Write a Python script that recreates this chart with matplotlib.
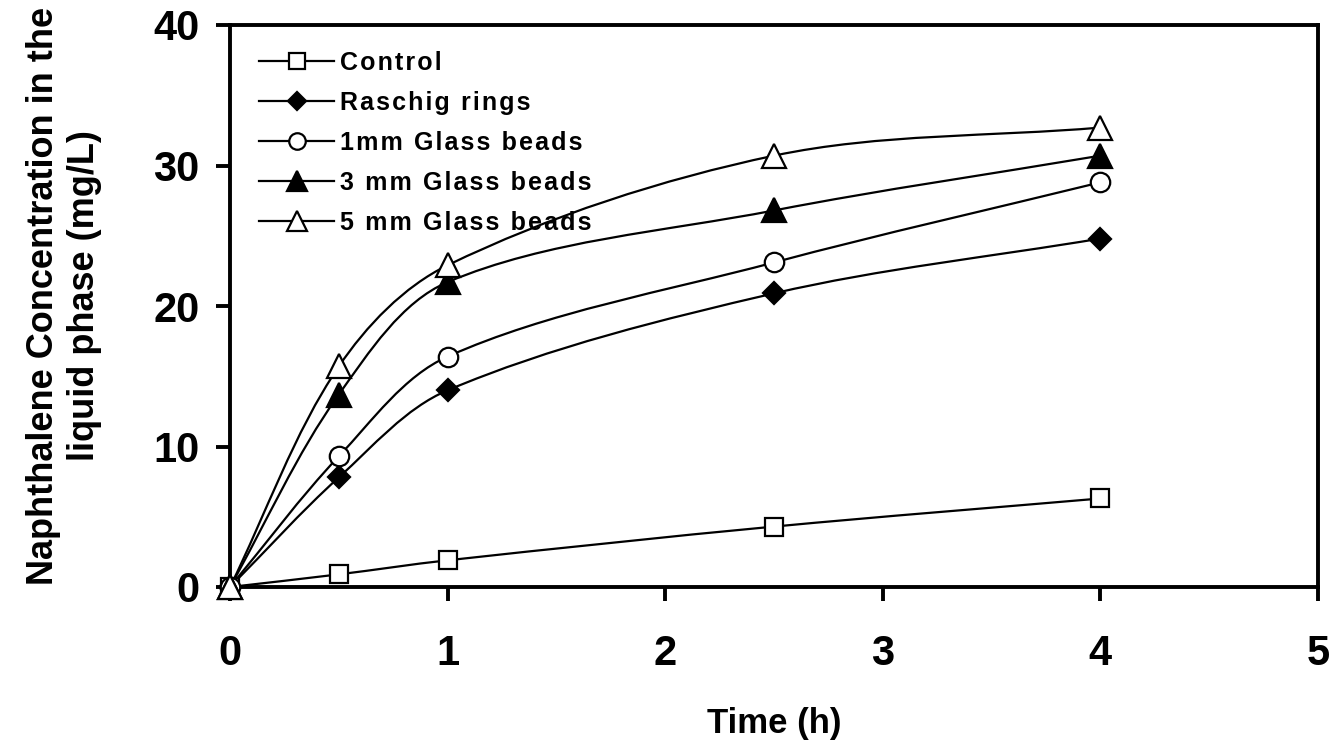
import matplotlib
matplotlib.use("Agg")
import matplotlib.pyplot as plt
import numpy as np
from matplotlib.path import Path
from matplotlib.patches import PathPatch
from matplotlib.lines import Line2D

plt.rcParams["font.family"] = ["Liberation Sans", "DejaVu Sans"]
plt.rcParams["font.weight"] = "bold"

# data
time_h = [0, 0.5, 1, 2.5, 4]
control = [0, 0.9, 1.9, 4.3, 6.3]
raschig = [0, 7.8, 14.0, 20.9, 24.8]
glass_1mm = [0, 9.3, 16.4, 23.1, 28.8]
glass_3mm = [0, 13.7, 21.7, 26.8, 30.7]
glass_5mm = [0, 15.7, 22.9, 30.7, 32.7]

labels = ["Control", "Raschig rings", "1mm Glass beads",
          "3 mm Glass beads", "5 mm Glass beads"]
series = [control, raschig, glass_1mm, glass_3mm, glass_5mm]
styles = [
    dict(marker="s", mfc="white", ms=13),
    dict(marker="D", mfc="black", ms=11),
    dict(marker="o", mfc="white", ms=14),
    dict(marker="^", mfc="black", ms=17),
    dict(marker="^", mfc="white", ms=17),
]


def smooth_path(ax, xs, ys):
    """Excel-like smoothed line, built as cubic Beziers in screen space
    with chord-length scaled tangents, then mapped back to data space."""
    pts = ax.transData.transform(np.column_stack([xs, ys]))
    n = len(pts)
    d = [np.hypot(*(pts[i + 1] - pts[i])) for i in range(n - 1)]
    verts = [pts[0]]
    codes = [Path.MOVETO]
    for i in range(n - 1):
        p0 = pts[i - 1] if i > 0 else pts[i]
        p1, p2 = pts[i], pts[i + 1]
        p3 = pts[i + 2] if i + 2 < n else pts[i + 1]
        d_prev = d[i - 1] if i > 0 else 0.0
        d_next = d[i + 1] if i + 2 < n else 0.0
        c1 = p1 + (p2 - p0) * d[i] / (d_prev + d[i]) / 3
        c2 = p2 - (p3 - p1) * d[i] / (d[i] + d_next) / 3
        verts += [c1, c2, p2]
        codes += [Path.CURVE4] * 3
    verts = ax.transData.inverted().transform(np.array(verts))
    return Path(verts, codes)


def spaced(text):
    return "\u200a".join(text)


fig = plt.figure(figsize=(13.34, 7.44), dpi=100)
ax = fig.add_axes([230 / 1334, 1 - 587 / 744, 1088 / 1334, 562 / 744])
ax.set_xlim(0, 5)
ax.set_ylim(0, 40)

for ys, st in zip(series, styles):
    ax.add_patch(PathPatch(smooth_path(ax, time_h, ys), fill=False,
                           edgecolor="black", lw=1.6, zorder=2))
    ax.plot(time_h, ys, linestyle="none", color="black",
            mec="black", mew=1.6, zorder=3, clip_on=False, **st)

ax.set_xticks([0, 1, 2, 3, 4, 5])
ax.set_yticks([0, 10, 20, 30, 40])
for sp in ax.spines.values():
    sp.set_linewidth(2.8)
ax.tick_params(axis="both", direction="out", length=10, width=2.8,
               labelsize=30)
ax.tick_params(axis="x", pad=24)
ax.tick_params(axis="y", pad=12)

fig.text(774 / 1334, 1 - 724 / 744, "Time (h)", ha="center", va="center",
         fontsize=25, fontweight="bold")
fig.text(64 / 1334, 1 - 296 / 744,
         "Naphthalene Concentration in the\nliquid phase (mg/L)",
         ha="center", va="center", rotation=90, fontsize=26,
         fontweight="bold", multialignment="center", linespacing=1.2)

leg_handles = [Line2D([0], [0], color="black", lw=1.6, mec="black",
                      mew=1.6, **st) for st in styles]
leg = fig.legend(leg_handles, [spaced(l) for l in labels],
                 loc="upper left", bbox_to_anchor=(259 / 1334, 1 - 51 / 744),
                 frameon=False, fontsize=18, handlelength=3.0,
                 handletextpad=0.25, labelspacing=0.64, borderpad=0,
                 borderaxespad=0, markerscale=0.85, numpoints=1)
for t in leg.get_texts():
    t.set_fontweight("bold")

fig.savefig("out.png", dpi=100, facecolor="white")
